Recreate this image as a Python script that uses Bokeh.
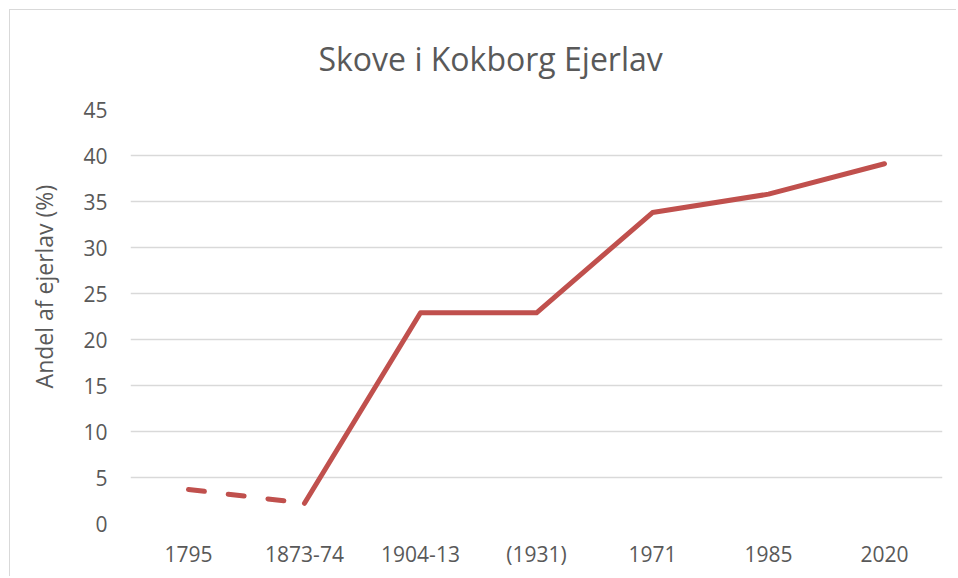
from bokeh.plotting import figure
from bokeh.models import FactorRange, Range1d, ColumnDataSource
from bokeh.embed import file_html
from bokeh.resources import INLINE

categories = ["1795", "1873-74", "1904-13", "(1931)", "1971", "1985", "2020"]
values = [3.7, 2.2, 22.9, 22.9, 33.8, 35.8, 39.1]
dashed_idx = [0, 1]          # uncertain early estimate (dashed)
solid_idx = [1, 2, 3, 4, 5, 6]
y_ticks = [0, 5, 10, 15, 20, 25, 30, 35, 40, 45]

TEXT = "#595959"
GRID = "#d9d9d9"
LINE = "#c0504d"
FONT = "Open Sans"

border_css = """
:host { position: relative; }
:host::after {
  content: "";
  position: absolute;
  left: 9px; top: 9px; right: -6px; bottom: -6px;
  border-left: 1.5px solid #d9d9d9;
  border-top: 1.5px solid #d9d9d9;
  pointer-events: none;
  z-index: 10;
}
"""

p = figure(width=950, height=570, output_backend="svg", toolbar_location=None,
           x_range=FactorRange(*categories, range_padding=0),
           y_range=Range1d(0, 45),
           min_border_left=130, min_border_right=8, min_border_top=109, min_border_bottom=46,
           stylesheets=[border_css])
p.outline_line_color = None
p.background_fill_color = "white"
p.border_fill_color = "white"

p.title.text = "Skove i Kokborg Ejerlav"
p.title.align = "left"
p.title.offset = 188
p.title.text_font = FONT
p.title.text_font_size = "32px"
p.title.text_font_style = "normal"
p.title.text_color = TEXT
p.title.standoff = 60

src_d = ColumnDataSource(dict(x=[categories[i] for i in dashed_idx], y=[values[i] for i in dashed_idx]))
src_s = ColumnDataSource(dict(x=[categories[i] for i in solid_idx], y=[values[i] for i in solid_idx]))
p.line("x", "y", source=src_d, line_color=LINE, line_width=5, line_dash="16 24", line_cap="round")
p.line("x", "y", source=src_s, line_color=LINE, line_width=5, line_cap="round", line_join="round")

p.xgrid.grid_line_color = None
p.ygrid.grid_line_color = GRID
p.ygrid.grid_line_width = 1.5
p.yaxis.ticker = y_ticks

for ax in (p.xaxis[0], p.yaxis[0]):
    ax.axis_line_color = None
    ax.major_tick_line_color = None
    ax.minor_tick_line_color = None
    ax.major_label_text_font = FONT
    ax.major_label_text_font_size = "21px"
    ax.major_label_text_color = TEXT
p.xaxis.major_label_standoff = 10
p.yaxis.major_label_standoff = 17

p.yaxis.axis_label = "\u00a0" * 10 + "Andel af ejerlav (%)"
p.yaxis.axis_label_text_font = FONT
p.yaxis.axis_label_text_font_size = "23px"
p.yaxis.axis_label_text_font_style = "normal"
p.yaxis.axis_label_text_color = TEXT
p.yaxis.axis_label_standoff = 20

open("out.html", "w").write(file_html(p, INLINE))
